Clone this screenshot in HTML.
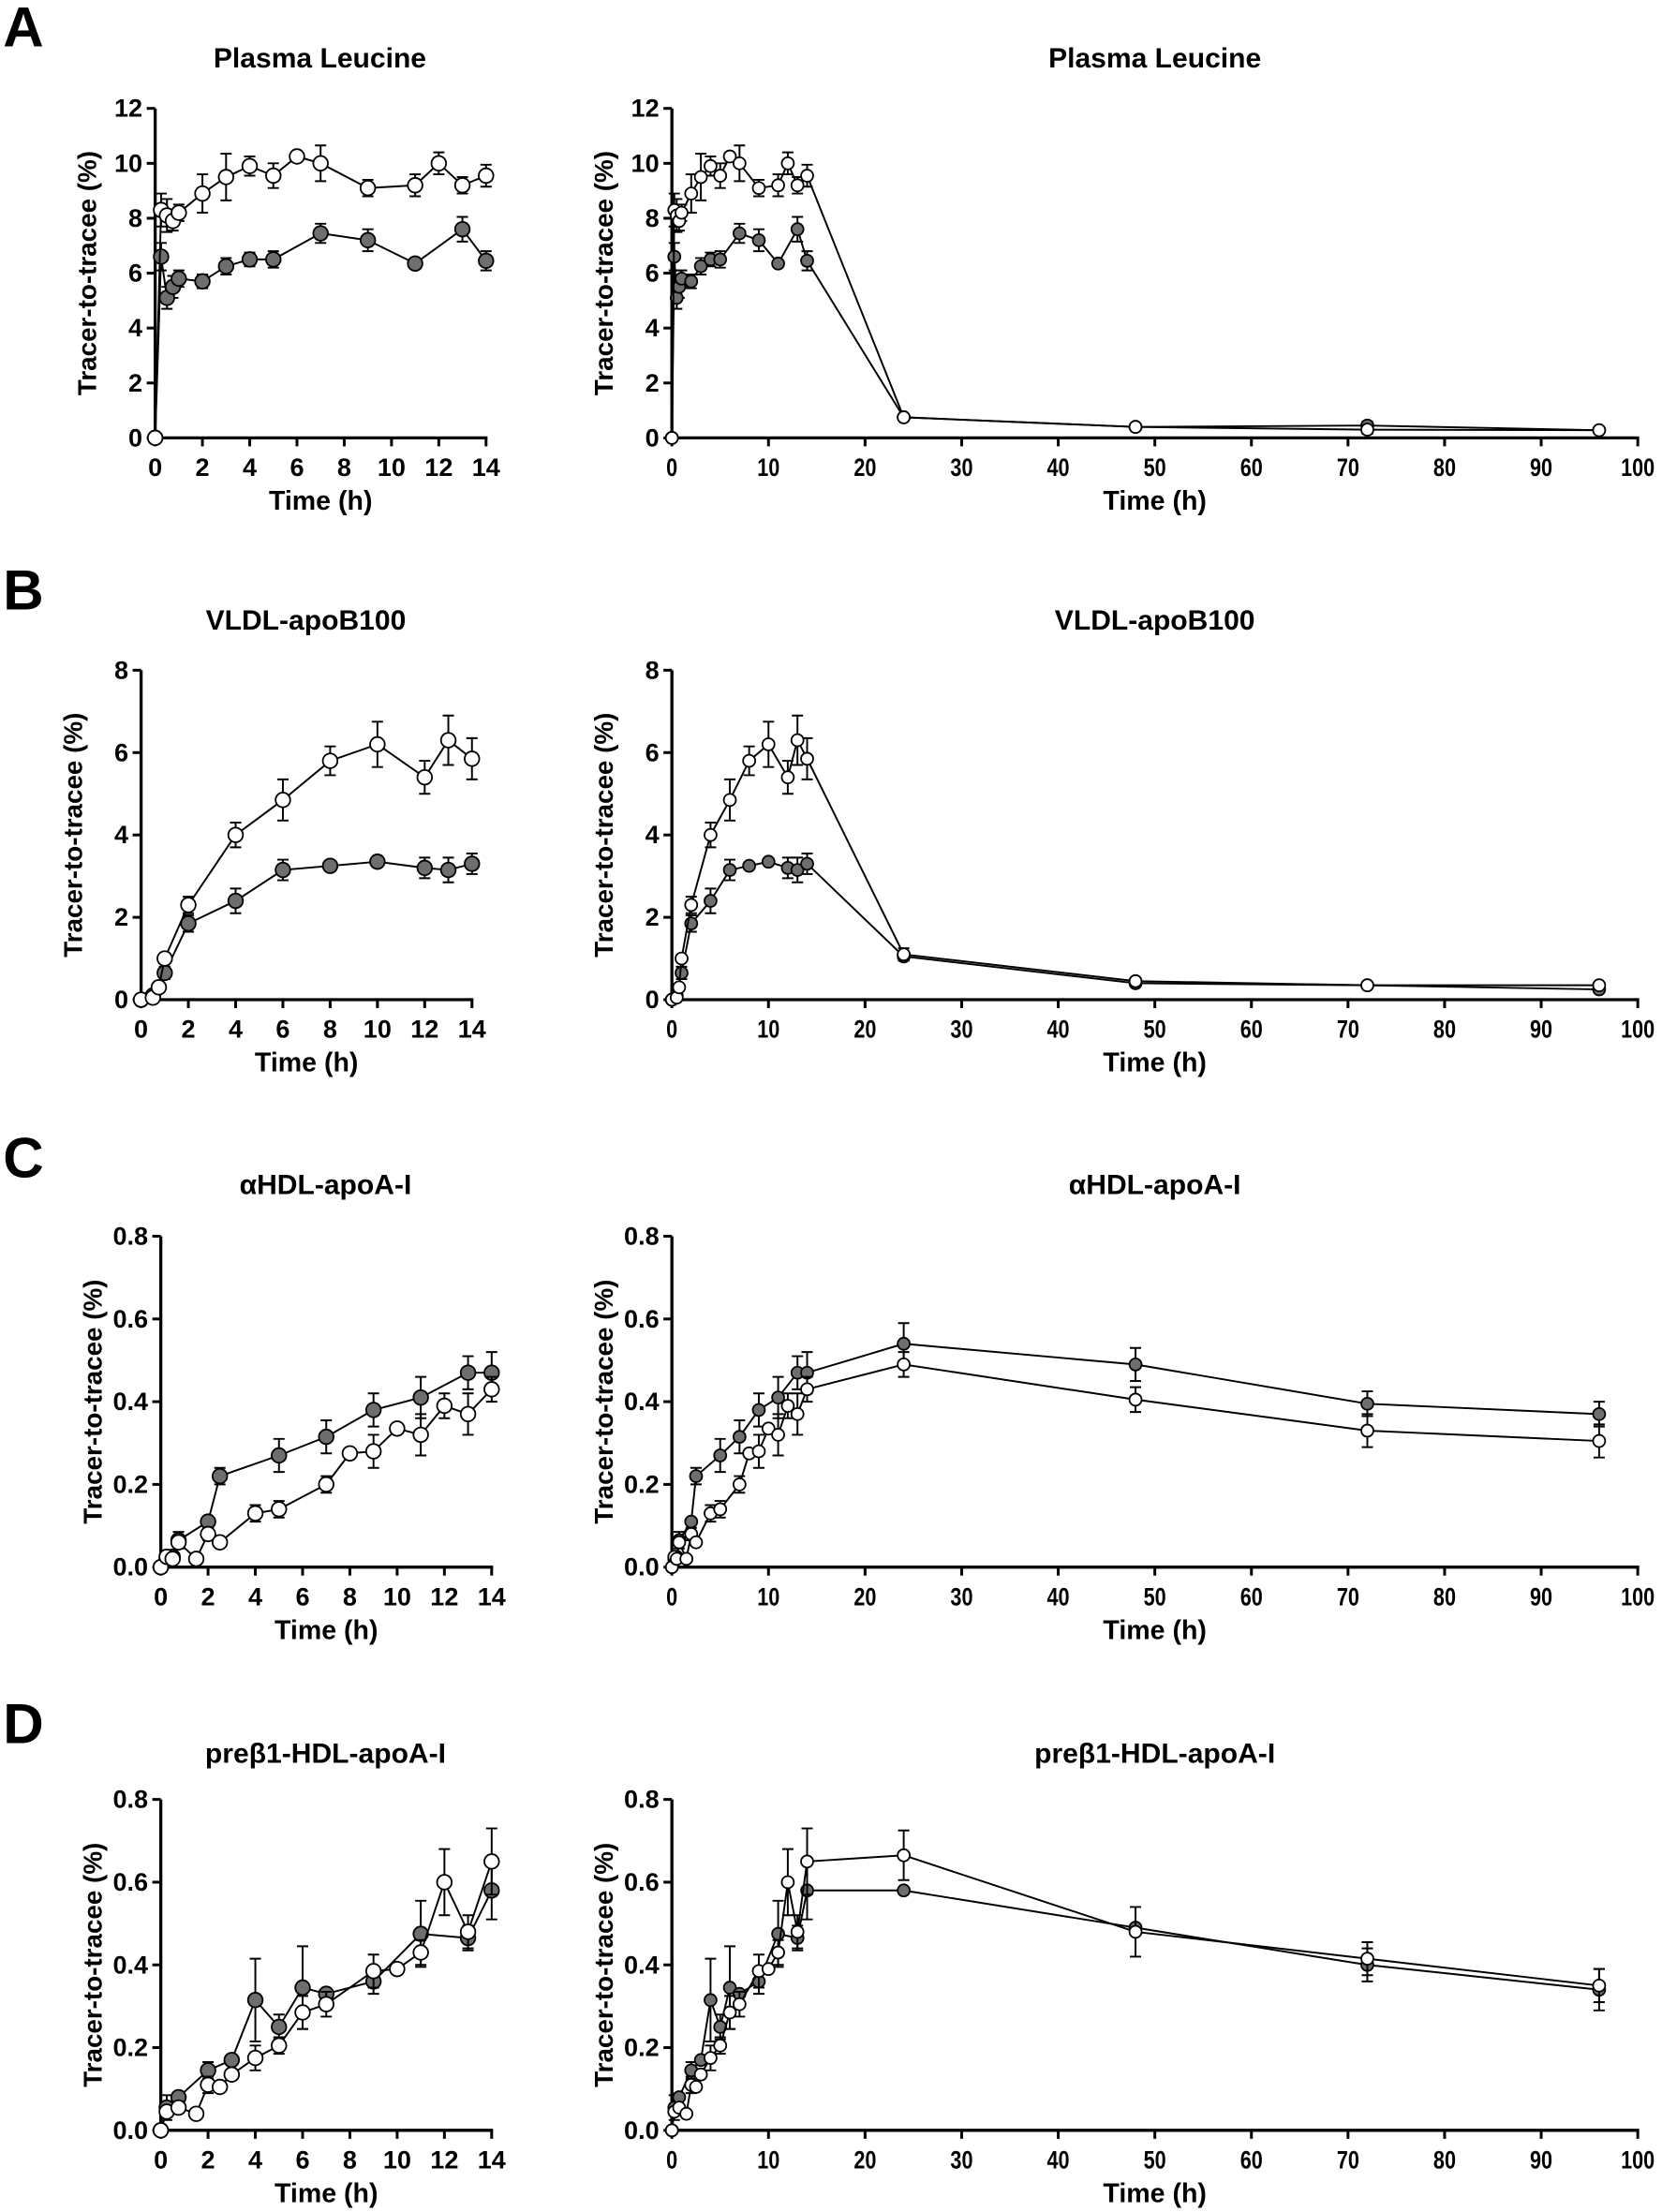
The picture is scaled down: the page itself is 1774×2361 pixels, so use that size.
<!DOCTYPE html>
<html><head><meta charset="utf-8"><style>
html,body{margin:0;padding:0;background:#fff}
svg{display:block}
text{font-family:"Liberation Sans",Arial,sans-serif;font-weight:bold;fill:#000}
</style></head><body>
<svg id="s" width="1774" height="2361" viewBox="0 0 1180 1571" xmlns="http://www.w3.org/2000/svg"></svg>
<script>
const s=document.getElementById('s');let h='';
function panel(p){
 const {x0,x1,y0,y1,xmax,xstep,ymax,ystep,dec,title,tx,ty,narrow}=p;
 const X=t=>x0+(x1-x0)*t/xmax, Y=v=>y0-(y0-y1)*v/ymax;
 h+=`<text x="${tx}" y="${ty}" font-size="20" text-anchor="middle">${title}</text>`;
 h+=`<line x1="${x0}" y1="${y1}" x2="${x0}" y2="${y0+1}" stroke="#000" stroke-width="2.2"/>`;
 h+=`<line x1="${x0-1}" y1="${y0}" x2="${x1+1}" y2="${y0}" stroke="#000" stroke-width="2.2"/>`;
 for(let v=0;v<=ymax+1e-9;v+=ystep){const y=Y(v);
  h+=`<line x1="${x0-6}" y1="${y}" x2="${x0}" y2="${y}" stroke="#000" stroke-width="2"/>`;
  h+=`<text x="${x0-9}" y="${y+6}" font-size="18" text-anchor="end">${v.toFixed(dec)}</text>`;}
 for(let t=0;t<=xmax+1e-9;t+=xstep){const x=X(t);
  h+=`<line x1="${x}" y1="${y0}" x2="${x}" y2="${y0+6}" stroke="#000" stroke-width="2"/>`;
  h+=`<text x="${x}" y="${y0+27}" font-size="18" text-anchor="middle"${narrow?` transform="translate(${x} 0) scale(0.8 1) translate(${-x} 0)"`:''}>${t}</text>`;}
 h+=`<text x="${(x0+x1)/2}" y="${y0+51}" font-size="19" text-anchor="middle">Time (h)</text>`;
 const lx=x0-42, ly=(y0+y1)/2;
 h+=`<text x="${lx}" y="${ly}" font-size="18.5" text-anchor="middle" transform="rotate(-90 ${lx} ${ly})">Tracer-to-tracee (%)</text>`;
 const r=p.r||5.5;
 for(const [data,fill] of [[p.gray,'#6e6e6e'],[p.open,'#fff']]){
  const d=data.filter(d=>d[0]<=xmax);
  h+=`<polyline fill="none" stroke="#000" stroke-width="1.3" points="${d.map(q=>X(q[0])+','+Y(q[1])).join(' ')}"/>`;
  for(const q of d){ if(q[2]){const x=X(q[0]);const ya=Y(q[1]+q[2]),yb=Y(q[1]-q[2]);
    h+=`<path d="M${x} ${ya}V${yb}M${x-4} ${ya}H${x+4}M${x-4} ${yb}H${x+4}" stroke="#000" stroke-width="1.3" fill="none"/>`;}}
  for(const q of d) h+=`<circle cx="${X(q[0])}" cy="${Y(q[1])}" r="${r}" fill="${fill}" stroke="#000" stroke-width="1.2"/>`;
 }
}
const data={
A:{open:[[0,0],[0.25,8.3,0.6],[0.5,8.1,0.6],[0.75,7.9,0.35],[1,8.2,0.3],[2,8.9,0.7],[3,9.5,0.85],[4,9.9,0.35],[5,9.55,0.45],[6,10.25],[7,10.0,0.65],[9,9.1,0.3],[11,9.2,0.4],[12,10.0,0.4],[13,9.2,0.3],[14,9.55,0.4],[24,0.75],[48,0.4],[72,0.3,0.15],[96,0.28]],
   gray:[[0,0],[0.25,6.6,0.5],[0.5,5.1,0.4],[0.75,5.5,0.4],[1,5.8,0.3],[2,5.7,0.25],[3,6.25,0.3],[4,6.5,0.25],[5,6.5,0.3],[7,7.45,0.35],[9,7.2,0.4],[11,6.35],[13,7.6,0.45],[14,6.45,0.35],[24,0.75,0.1],[48,0.4,0.1],[72,0.45,0.15],[96,0.28]]},
B:{open:[[0,0],[0.5,0.05],[0.75,0.3],[1,1.0],[2,2.3,0.2],[4,4.0,0.3],[6,4.85,0.5],[8,5.8,0.35],[10,6.2,0.55],[12,5.4,0.4],[13,6.3,0.6],[14,5.85,0.5],[24,1.1,0.15],[48,0.45,0.05],[72,0.35],[96,0.35]],
   gray:[[0,0],[0.5,0.1],[1,0.65,0.15],[2,1.85,0.2],[4,2.4,0.3],[6,3.15,0.25],[8,3.25],[10,3.35],[12,3.2,0.25],[13,3.15,0.3],[14,3.3,0.25],[24,1.05,0.1],[48,0.4],[72,0.35],[96,0.25]]},
C:{open:[[0,0],[0.25,0.025],[0.5,0.02],[0.75,0.06],[1.5,0.02],[2,0.08,0.015],[2.5,0.06],[4,0.13,0.02],[5,0.14,0.02],[7,0.2,0.02],[8,0.275],[9,0.28,0.04],[10,0.335],[11,0.32,0.05],[12,0.39,0.03],[13,0.37,0.05],[14,0.43,0.03],[24,0.49,0.03],[48,0.405,0.03],[72,0.33,0.04],[96,0.305,0.04]],
   gray:[[0,0],[0.25,0.02],[0.5,0.025],[0.75,0.065,0.02],[2,0.11],[2.5,0.22,0.02],[5,0.27,0.04],[7,0.315,0.04],[9,0.38,0.04],[11,0.41,0.05],[13,0.47,0.04],[14,0.47,0.05],[24,0.54,0.05],[48,0.49,0.04],[72,0.395,0.03],[96,0.37,0.03]]},
D:{open:[[0,0],[0.25,0.045],[0.75,0.055],[1.5,0.04],[2,0.11,0.02],[2.5,0.105],[3,0.135],[4,0.175,0.03],[5,0.205,0.02],[6,0.285,0.04],[7,0.305,0.03],[9,0.385,0.04],[10,0.39],[11,0.43,0.03],[12,0.6,0.08],[13,0.48,0.04],[14,0.65,0.08],[24,0.665,0.06],[48,0.48,0.06],[72,0.415,0.04],[96,0.35,0.04]],
   gray:[[0,0],[0.25,0.055,0.03],[0.75,0.08],[2,0.145,0.02],[3,0.17],[4,0.315,0.1],[5,0.25,0.03],[6,0.345,0.1],[7,0.33],[9,0.36,0.03],[11,0.475,0.08],[13,0.465,0.03],[14,0.58,0.07],[24,0.58],[48,0.49],[72,0.40,0.04],[96,0.34,0.05]]}
};
const rows=[
 {k:'A',title:'Plasma Leucine',y0:311,y1:77,ymax:12,ystep:2,dec:0,lx:110,ty:48,ly:33},
 {k:'B',title:'VLDL-apoB100',y0:710,y1:476,ymax:8,ystep:2,dec:0,lx:100,ty:447,ly:433},
 {k:'C',title:'\u03b1HDL-apoA-I',y0:1113,y1:878,ymax:0.8,ystep:0.2,dec:1,lx:114,ty:848,ly:836},
 {k:'D',title:'pre\u03b21-HDL-apoA-I',y0:1513,y1:1278,ymax:0.8,ystep:0.2,dec:1,lx:114,ty:1252,ly:1238}];
for(const r of rows){
 h+=`<text x="2" y="${r.ly}" font-size="40">${r.k}</text>`;
 panel({x0:r.lx,x1:r.lx+235,y0:r.y0,y1:r.y1,xmax:14,xstep:2,ymax:r.ymax,ystep:r.ystep,dec:r.dec,title:r.title,tx:r.lx+117,ty:r.ty,open:data[r.k].open,gray:data[r.k].gray,r:5.2});
 panel({x0:477,x1:1163,y0:r.y0,y1:r.y1,xmax:100,xstep:10,ymax:r.ymax,ystep:r.ystep,dec:r.dec,title:r.title,tx:820,ty:r.ty,open:data[r.k].open,gray:data[r.k].gray,r:4.3,narrow:1});
}
s.innerHTML=h;
</script>
</body></html>
